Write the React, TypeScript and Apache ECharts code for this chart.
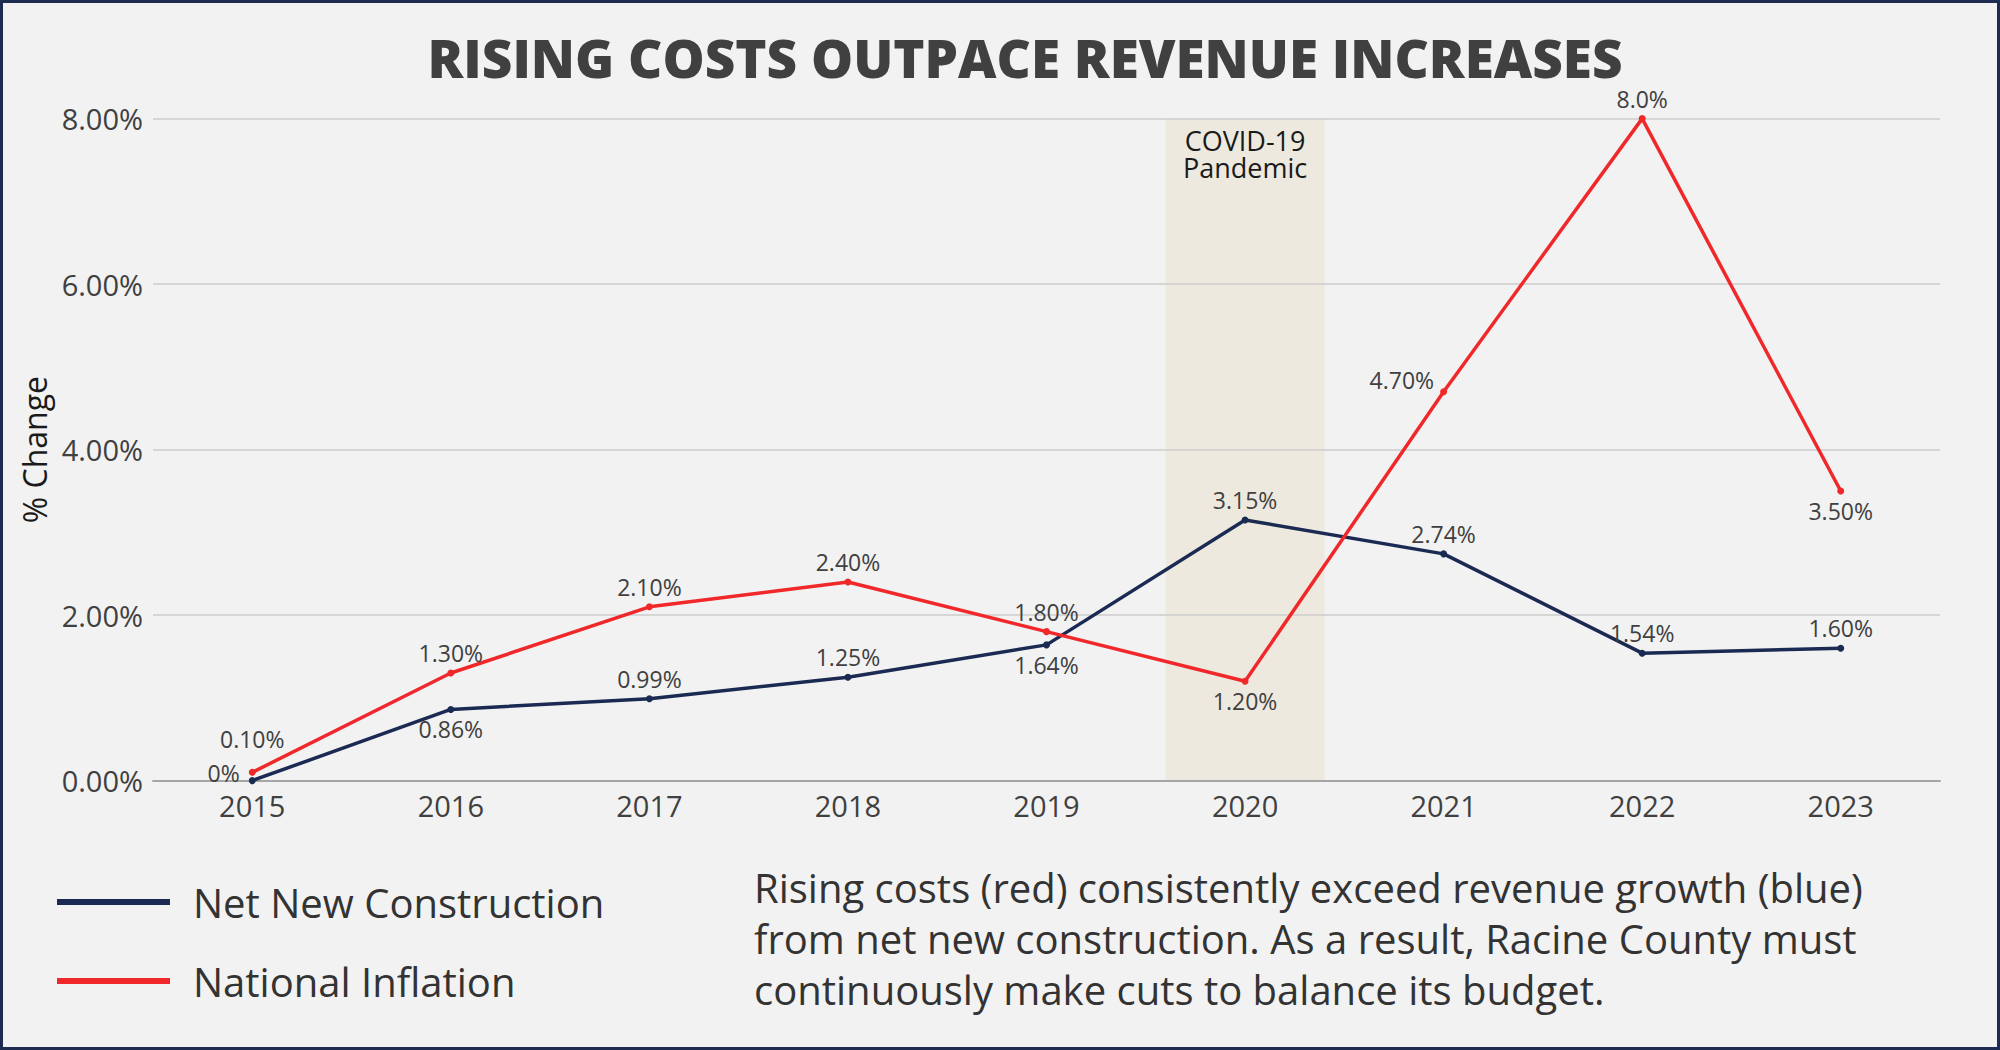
import React, { useEffect, useRef } from "react";
import * as echarts from "echarts";

const years = ["2015", "2016", "2017", "2018", "2019", "2020", "2021", "2022", "2023"];
const netNewConstruction = [0, 0.86, 0.99, 1.25, 1.64, 3.15, 2.74, 1.54, 1.6];
const nationalInflation = [0.1, 1.3, 2.1, 2.4, 1.8, 1.2, 4.7, 8.0, 3.5];
const netLabels = ["0%", "0.86%", "0.99%", "1.25%", "1.64%", "3.15%", "2.74%", "1.54%", "1.60%"];
const inflLabels = ["0.10%", "1.30%", "2.10%", "2.40%", "1.80%", "1.20%", "4.70%", "8.0%", "3.50%"];
const netLabelPos = ["left", "bottom", "top", "top", "bottom", "top", "top", "top", "top"];
const inflLabelPos = ["top", "top", "top", "top", "top", "bottom", "left", "top", "bottom"];
const covidBand = [null, null, null, null, null, 8, null, null, null];
const yTicks = ["0.00%", "2.00%", "4.00%", "6.00%", "8.00%"];

const FONT = "'Open Sans', 'Noto Sans', sans-serif";
const NAVY = "#1b2a52";
const RED = "#f0282a";

export default function App() {
  const ref = useRef<HTMLDivElement>(null);
  useEffect(() => {
    const el = ref.current!;
    const chart = echarts.init(el, null, { renderer: "svg" });
    const mkData = (vals: number[], labels: string[], pos: string[], firstUp: boolean) =>
      vals.map((v, i) => ({
        value: v,
        label: {
          formatter: labels[i],
          position: pos[i],
          offset: pos[i] === "left" ? [0, i === 0 ? -8 : -12] : [0, 0],
          distance: pos[i] === "left" ? (i === 0 ? 9 : 6) : i === 0 && firstUp ? 18 : 5,
        },
      }));
    chart.setOption({
      animation: false,
      backgroundColor: "#f2f2f2",
      textStyle: { fontFamily: FONT },
      title: {
        text: "RISING COSTS OUTPACE REVENUE INCREASES",
        left: 1020,
        textAlign: "center",
        top: 26,
        textStyle: { fontFamily: FONT, fontSize: 53, fontWeight: 800, color: "#404040" },
      },
      legend: {
        data: ["Net New Construction", "National Inflation"],
        orient: "vertical",
        left: 57,
        top: 880,
        padding: 0,
        itemWidth: 113,
        itemHeight: 6,
        itemGap: 35,
        icon: "rect",
        textStyle: { fontFamily: FONT, fontSize: 40, color: "#333333", lineHeight: 44, padding: [0, 0, 0, 18] },
      },
      grid: { left: 153, right: 60, top: 118.6, bottom: 269.4 },
      xAxis: {
        type: "category",
        data: years,
        boundaryGap: true,
        axisTick: { show: false },
        axisLine: { lineStyle: { color: "#a6a6a6", width: 2 } },
        axisLabel: { fontSize: 29, color: "#404040", margin: 10, fontFamily: FONT },
      },
      yAxis: {
        type: "value",
        min: 0,
        max: 8,
        interval: 2,
        name: "% Change",
        nameLocation: "middle",
        nameGap: 102,
        nameRotate: 90,
        nameTextStyle: { fontSize: 32, color: "#1a1a1a", fontFamily: FONT },
        axisLabel: {
          fontSize: 29,
          color: "#404040",
          margin: 10,
          fontFamily: FONT,
          formatter: (v: number) => yTicks[Math.round(v / 2)],
        },
        splitLine: { lineStyle: { color: "#cccccc", width: 1.5 } },
      },
      series: [
        {
          name: "COVID",
          type: "bar",
          data: covidBand,
          barWidth: "80%",
          z: -1,
          itemStyle: { color: "#ede9df" },
          label: {
            show: true,
            position: "insideTop",
            distance: 8,
            formatter: "COVID-19\nPandemic",
            fontSize: 27,
            lineHeight: 27,
            color: "#1a1a1a",
            fontFamily: FONT,
          },
          silent: true,
        },
        {
          name: "Net New Construction",
          type: "line",
          data: mkData(netNewConstruction, netLabels, netLabelPos, false),
          color: NAVY,
          lineStyle: { color: NAVY, width: 3.5 },
          symbol: "circle",
          symbolSize: 7,
          itemStyle: { color: NAVY },
          label: { show: true, fontSize: 23, color: "#404040", fontFamily: FONT },
          z: 3,
        },
        {
          name: "National Inflation",
          type: "line",
          data: mkData(nationalInflation, inflLabels, inflLabelPos, true),
          color: RED,
          lineStyle: { color: RED, width: 3.5 },
          symbol: "circle",
          symbolSize: 7,
          itemStyle: { color: RED },
          label: { show: true, fontSize: 23, color: "#404040", fontFamily: FONT },
          z: 4,
        },
      ],
      graphic: [
        {
          type: "rect",
          shape: { x: 1.5, y: 1.5, width: 1997, height: 1047 },
          style: { fill: "none", stroke: "#1d2c50", lineWidth: 3 },
          silent: true,
        },
        {
          type: "text",
          left: 754,
          top: 862,
          style: {
            text:
              "Rising costs (red) consistently exceed revenue growth (blue)\nfrom net new construction. As a result, Racine County must\ncontinuously make cuts to balance its budget.",
            fontSize: 40,
            lineHeight: 51,
            fill: "#333333",
            fontFamily: FONT,
          },
        },
      ],
    });
    return () => chart.dispose();
  }, []);
  return (
    <div
      ref={ref}
      style={{ position: "absolute", left: 0, top: 0, width: 2000, height: 1050 }}
    />
  );
}
